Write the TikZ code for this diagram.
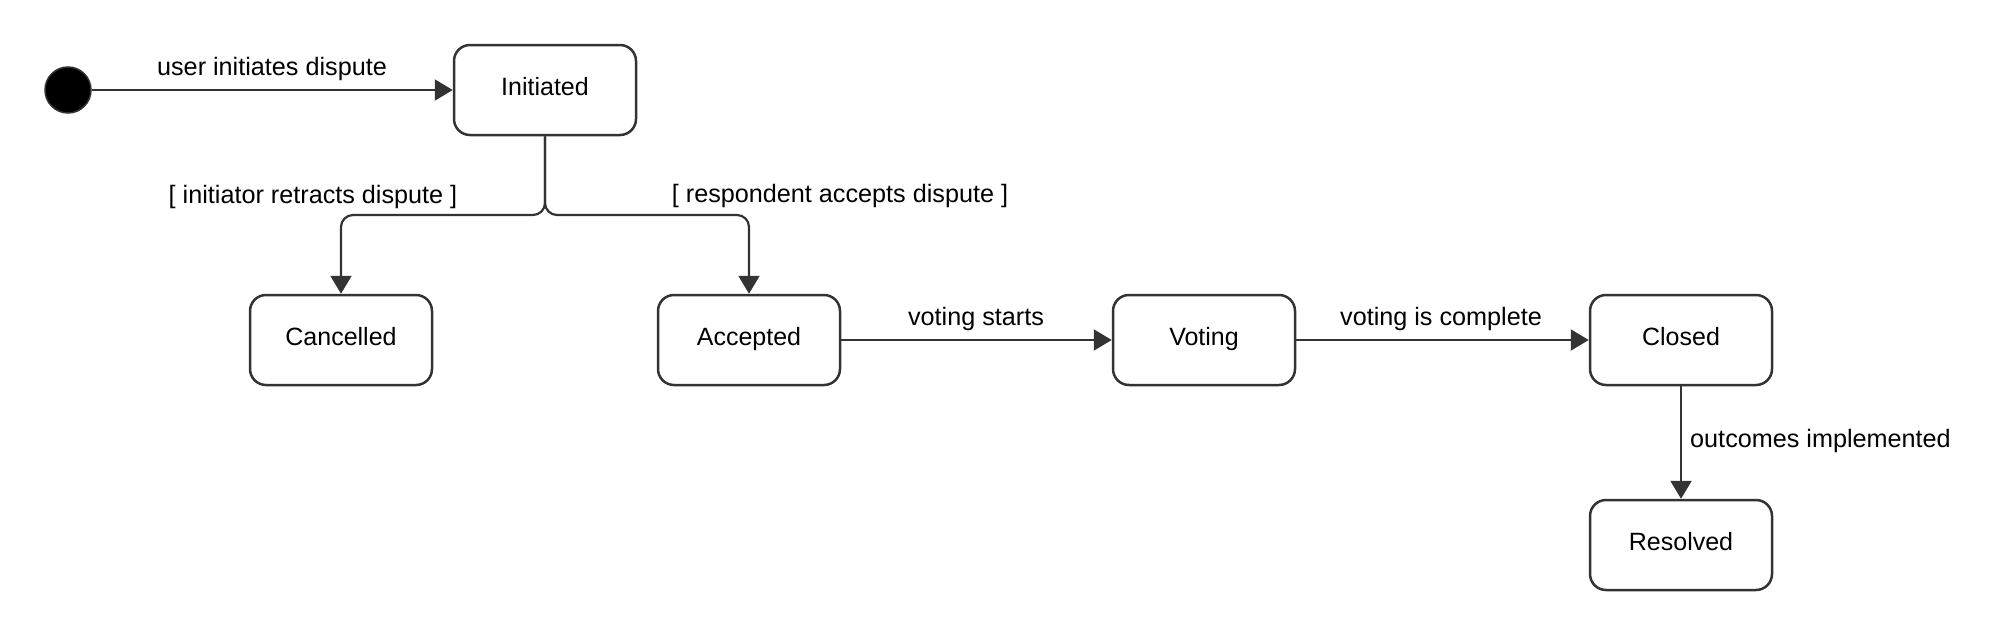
\documentclass[tikz,border=0pt]{standalone}
\usepackage{fontspec}
\setmainfont{Liberation Sans}
\usetikzlibrary{arrows.meta}
\definecolor{ln}{HTML}{333333}
\begin{document}
\begin{tikzpicture}[x=1pt,y=-1pt,
  state/.style={draw=ln, line width=2.5pt, rounded corners=16pt, minimum width=182pt, minimum height=90pt, inner sep=0pt, text height=18pt, text depth=8pt, font=\fontsize{25}{30}\selectfont},
  lbl/.style={font=\fontsize{25.2}{30}\selectfont, inner sep=0pt, text=black},
  conn/.style={draw=ln, line width=2.2pt, -{Triangle[length=18pt,width=21pt]}}]
\useasboundingbox (0,0) rectangle (1999,637);
\node[circle, fill=black, draw=ln, line width=1.5pt, minimum size=46pt, inner sep=0pt] (start) at (68,90) {};
\node[state] (ini) at (545,90) {Initiated};
\node[state] (can) at (341,340) {Cancelled};
\node[state] (acc) at (749,340) {Accepted};
\node[state] (vot) at (1204,340) {Voting};
\node[state] (clo) at (1681,340) {Closed};
\node[state] (res) at (1681,545) {Resolved};
\coordinate (br) at (545,215);
\draw[conn] (start) -- (ini);
\draw[conn, rounded corners=12pt] (ini.south) -- (br) -| (can.north);
\draw[conn, rounded corners=12pt] (ini.south) -- (br) -| (acc.north);
\draw[conn] (acc) -- (vot);
\draw[conn] (vot) -- (clo);
\draw[conn] (clo) -- (res);
\node[lbl] (l1) at (272,69) {user initiates dispute};
\node[lbl] (l2) at (313,197) {[ initiator retracts dispute ]};
\node[lbl] (l3) at (840,196) {[ respondent accepts dispute ]};
\node[lbl] (l4) at (976,319) {voting starts};
\node[lbl] (l5) at (1441,319) {voting is complete};
\node[lbl, anchor=west] (l6) at (1690,441) {outcomes implemented};
\end{tikzpicture}
\end{document}
